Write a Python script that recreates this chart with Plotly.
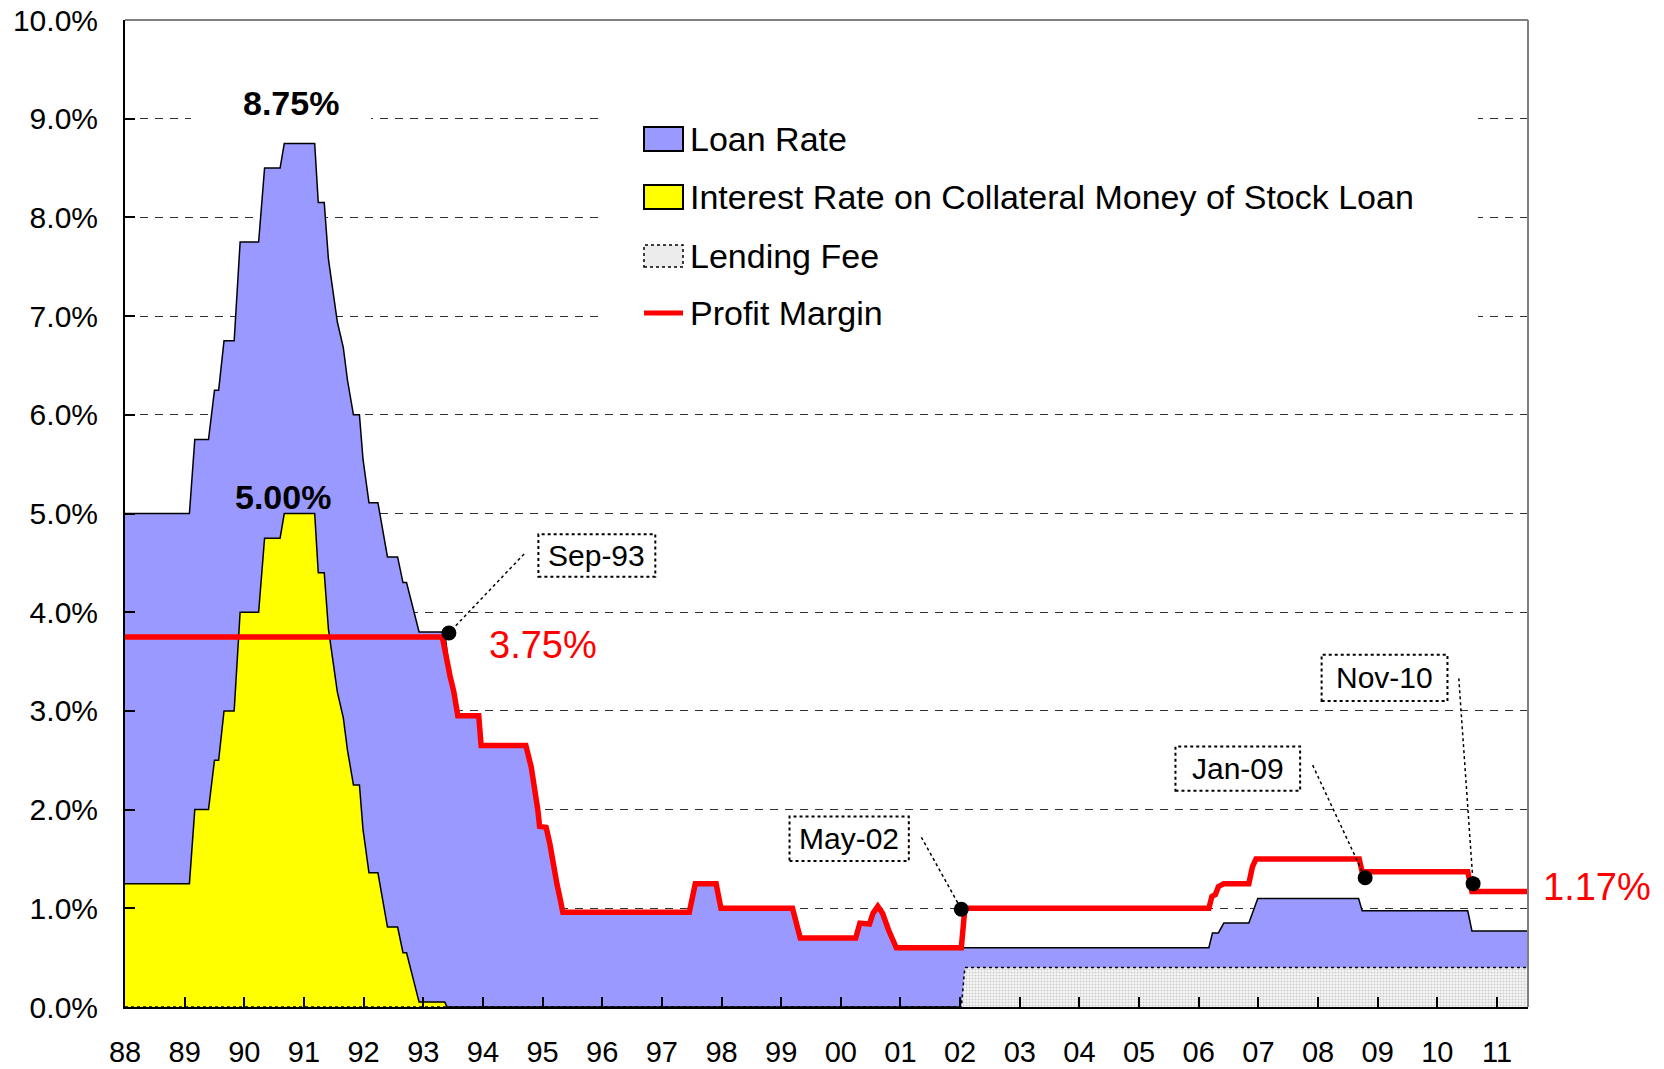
import plotly.graph_objects as go

# ---------------- data ----------------
year_ticks = [1988, 1989, 1990, 1991, 1992, 1993, 1994, 1995, 1996, 1997, 1998, 1999,
              2000, 2001, 2002, 2003, 2004, 2005, 2006, 2007, 2008, 2009, 2010, 2011]
year_labels = ["88", "89", "90", "91", "92", "93", "94", "95", "96", "97", "98", "99",
               "00", "01", "02", "03", "04", "05", "06", "07", "08", "09", "10", "11"]

loan_x = [1988.00, 1989.08, 1989.17, 1989.40, 1989.50, 1989.57, 1989.66, 1989.83, 1989.93,
          1990.24, 1990.34, 1990.60, 1990.67, 1991.18, 1991.24, 1991.34, 1991.41, 1991.56,
          1991.66, 1991.73, 1991.83, 1991.93, 1991.99, 1992.09, 1992.24, 1992.31, 1992.40,
          1992.57, 1992.66, 1992.72, 1992.93, 1993.36, 1993.45, 1993.51, 1993.58, 1993.93,
          1993.97, 1994.72, 1994.81, 1994.87, 1994.92, 1994.95, 1995.06, 1995.12, 1995.18,
          1995.24, 1995.30, 1995.34, 1997.46, 1997.56, 1997.91, 1997.99, 1999.19, 1999.32,
          2000.25, 2000.32, 2000.48, 2000.54, 2000.62, 2000.70, 2000.80, 2000.93, 2006.17,
          2006.23, 2006.33, 2006.42, 2006.84, 2006.99, 2008.68, 2008.74, 2010.51, 2010.58,
          2011.52]
loan_y = [5.00, 5.00, 5.75, 5.75, 6.25, 6.25, 6.75, 6.75, 7.75,
          7.75, 8.50, 8.50, 8.75, 8.75, 8.15, 8.15, 7.58, 6.94,
          6.68, 6.35, 6.00, 6.00, 5.55, 5.11, 5.11, 4.87, 4.56,
          4.56, 4.30, 4.30, 3.80, 3.80, 3.35, 3.20, 2.95, 2.95,
          2.65, 2.65, 2.43, 2.23, 2.00, 1.83, 1.82, 1.66, 1.42,
          1.25, 1.08, 0.96, 0.96, 1.25, 1.25, 1.00, 1.00, 0.70,
          0.70, 0.85, 0.84, 0.95, 1.02, 0.95, 0.78, 0.60, 0.60,
          0.75, 0.75, 0.85, 0.85, 1.10, 1.10, 0.975, 0.975, 0.77,
          0.77]

coll_x = [1988.00, 1989.08, 1989.17, 1989.40, 1989.50, 1989.57, 1989.66, 1989.83, 1989.93,
          1990.24, 1990.34, 1990.60, 1990.67, 1991.18, 1991.24, 1991.34, 1991.41, 1991.56,
          1991.66, 1991.73, 1991.83, 1991.93, 1991.99, 1992.09, 1992.24, 1992.31, 1992.40,
          1992.57, 1992.66, 1992.72, 1992.93, 1993.36, 1993.40, 2011.52]
coll_y = [1.25, 1.25, 2.00, 2.00, 2.50, 2.50, 3.00, 3.00, 4.00,
          4.00, 4.75, 4.75, 5.00, 5.00, 4.40, 4.40, 3.83, 3.19,
          2.93, 2.60, 2.25, 2.25, 1.80, 1.36, 1.36, 1.12, 0.81,
          0.81, 0.55, 0.55, 0.05, 0.05, 0.00, 0.00]

fee_x = [1988.00, 2002.02, 2002.08, 2011.52]
fee_y = [0.00, 0.00, 0.40, 0.40]

margin_x = [1988.00, 1993.32, 1993.45, 1993.51, 1993.58, 1993.93, 1993.97, 1994.72, 1994.81,
            1994.87, 1994.92, 1994.95, 1995.06, 1995.12, 1995.18, 1995.24, 1995.30, 1995.34,
            1997.46, 1997.56, 1997.91, 1997.99, 1999.19, 1999.32, 2000.25, 2000.32, 2000.48,
            2000.54, 2000.62, 2000.70, 2000.80, 2000.93, 2002.02, 2002.08, 2006.17, 2006.22,
            2006.28, 2006.33, 2006.42, 2006.84, 2006.90, 2006.96, 2008.69, 2008.74, 2010.51,
            2010.58, 2011.52]
margin_y = [3.75, 3.75, 3.35, 3.20, 2.95, 2.95, 2.65, 2.65, 2.43,
            2.23, 2.00, 1.83, 1.82, 1.66, 1.42, 1.25, 1.08, 0.96,
            0.96, 1.25, 1.25, 1.00, 1.00, 0.70, 0.70, 0.85, 0.84,
            0.95, 1.02, 0.95, 0.78, 0.60, 0.60, 1.00, 1.00, 1.12,
            1.14, 1.22, 1.25, 1.25, 1.42, 1.50, 1.50, 1.37, 1.37,
            1.17, 1.17]

event_labels = ["Sep-93", "May-02", "Jan-09", "Nov-10"]
event_x = [1993.43, 2002.02, 2008.79, 2010.60]
event_y = [3.79, 0.99, 1.31, 1.25]

series_names = ["Loan Rate", "Interest Rate on Collateral Money of Stock Loan",
                "Lending Fee", "Profit Margin"]

# ---------------- layout constants (page pixels) ----------------
PAGE_OFF = 8                      # default body margin of the html page
W, H = 1664 - PAGE_OFF, 1069 - PAGE_OFF
PLOT_L, PLOT_R, PLOT_T, PLOT_B = 125, 1528, 20, 1007
L = PLOT_L - PAGE_OFF
T = PLOT_T - PAGE_OFF
R = W - (PLOT_R - PAGE_OFF)
B = H - (PLOT_B - PAGE_OFF)
FONT = "Liberation Sans, Arial, sans-serif"
X0, X1 = 1988.0, 2011.52


def pxx(px):
    return (px - PLOT_L) / (PLOT_R - PLOT_L)


def pyy(py):
    return (PLOT_B - py) / (PLOT_B - PLOT_T)


fig = go.Figure()

fig.add_trace(go.Scatter(x=loan_x, y=loan_y, mode="lines", fill="tozeroy",
                         fillcolor="#9999FF", line=dict(color="black", width=1.5),
                         name=series_names[0], showlegend=False, hoverinfo="skip"))
fig.add_trace(go.Scatter(x=coll_x, y=coll_y, mode="lines", fill="tozeroy",
                         fillcolor="#FFFF00", line=dict(color="black", width=1.5),
                         name=series_names[1], showlegend=False, hoverinfo="skip"))
fig.add_trace(go.Scatter(x=fee_x, y=fee_y, mode="lines", fill="tozeroy",
                         fillcolor="#f4f4f4",
                         fillpattern=dict(shape=".", bgcolor="#f6f6f6", fgcolor="#a0a0a0",
                                          size=3, solidity=0.35),
                         line=dict(color="black", width=1.5, dash="dot"),
                         name=series_names[2], showlegend=False, hoverinfo="skip"))
fig.add_trace(go.Scatter(x=margin_x, y=margin_y, mode="lines",
                         line=dict(color="#FF0000", width=5.5),
                         name=series_names[3], showlegend=False, hoverinfo="skip"))

shapes = []
annotations = []

# white background behind legend and 8.75% label (hides gridlines)
shapes.append(dict(type="rect", xref="paper", yref="paper", layer="above",
                   x0=pxx(600), x1=pxx(1478), y0=pyy(335), y1=pyy(100),
                   fillcolor="white", line=dict(width=0)))
shapes.append(dict(type="rect", xref="paper", yref="paper", layer="above",
                   x0=pxx(191), x1=pxx(371), y0=pyy(128), y1=pyy(90),
                   fillcolor="white", line=dict(width=0)))

# plot frame: gray top and right
shapes.append(dict(type="line", xref="paper", yref="paper", x0=0, x1=1, y0=1, y1=1,
                   line=dict(color="#808080", width=2)))
shapes.append(dict(type="line", xref="paper", yref="paper", x0=1, x1=1, y0=0, y1=1,
                   line=dict(color="#808080", width=2)))

# manual legend
leg_rows = [139, 197, 256, 313]
sw_x0, sw_x1 = 644, 683
shapes.append(dict(type="rect", xref="paper", yref="paper",
                   x0=pxx(sw_x0), x1=pxx(sw_x1), y0=pyy(leg_rows[0] + 12), y1=pyy(leg_rows[0] - 12),
                   fillcolor="#9999FF", line=dict(color="black", width=2)))
shapes.append(dict(type="rect", xref="paper", yref="paper",
                   x0=pxx(sw_x0), x1=pxx(sw_x1), y0=pyy(leg_rows[1] + 12), y1=pyy(leg_rows[1] - 12),
                   fillcolor="#FFFF00", line=dict(color="black", width=2)))
shapes.append(dict(type="rect", xref="paper", yref="paper",
                   x0=pxx(sw_x0), x1=pxx(sw_x1), y0=pyy(leg_rows[2] + 11), y1=pyy(leg_rows[2] - 11),
                   fillcolor="#ececec", line=dict(color="black", width=1.5, dash="dot")))
shapes.append(dict(type="line", xref="paper", yref="paper",
                   x0=pxx(sw_x0), x1=pxx(sw_x1), y0=pyy(leg_rows[3]), y1=pyy(leg_rows[3]),
                   line=dict(color="#FF0000", width=5)))
for name, row in zip(series_names, leg_rows):
    annotations.append(dict(xref="paper", yref="paper", x=pxx(688), y=pyy(row),
                            xanchor="left", yanchor="middle", text=name, showarrow=False,
                            font=dict(family=FONT, size=34, color="black")))

# value labels
annotations.append(dict(x=1990.79, y=9.16, text="<b>8.75%</b>", showarrow=False,
                        xanchor="center", yanchor="middle",
                        font=dict(family=FONT, size=34, color="black")))
annotations.append(dict(x=1990.65, y=5.17, text="<b>5.00%</b>", showarrow=False,
                        xanchor="center", yanchor="middle",
                        font=dict(family=FONT, size=34, color="black")))
annotations.append(dict(x=1995.00, y=3.67, text="3.75%", showarrow=False,
                        xanchor="center", yanchor="middle",
                        font=dict(family=FONT, size=38, color="#FF0000")))
annotations.append(dict(xref="paper", x=pxx(1597), y=1.215, text="1.17%", showarrow=False,
                        xanchor="center", yanchor="middle",
                        font=dict(family=FONT, size=38, color="#FF0000")))

# callouts: box (x0, x1, y0, y1) and leader start, in axis units
callout_boxes = [
    (1994.93, 1996.89, 4.36, 4.79, 1994.69, 4.59),
    (1999.14, 2001.14, 1.48, 1.93, 2001.35, 1.72),
    (2005.61, 2007.70, 2.19, 2.64, 2007.91, 2.45),
    (2008.06, 2010.17, 3.10, 3.57, 2010.36, 3.33),
]
for lab, ex, ey, (bx0, bx1, by0, by1, lx, ly) in zip(event_labels, event_x, event_y, callout_boxes):
    shapes.append(dict(type="rect", xref="x", yref="y", x0=bx0, x1=bx1, y0=by0, y1=by1,
                       fillcolor="white", line=dict(color="black", width=2, dash="dot")))
    shapes.append(dict(type="line", xref="x", yref="y", x0=lx, y0=ly, x1=ex, y1=ey,
                       line=dict(color="black", width=1.5, dash="dot")))
    annotations.append(dict(x=(bx0 + bx1) / 2, y=(by0 + by1) / 2, text=lab, showarrow=False,
                            xanchor="center", yanchor="middle",
                            font=dict(family=FONT, size=30, color="black")))

fig.add_trace(go.Scatter(x=event_x, y=event_y, mode="markers",
                         marker=dict(color="black", size=15),
                         showlegend=False, hoverinfo="skip"))

fig.update_layout(
    width=W, height=H,
    margin=dict(l=L, r=R, t=T, b=B, pad=0, autoexpand=False),
    paper_bgcolor="white", plot_bgcolor="white",
    font=dict(family=FONT, color="black"),
    shapes=shapes, annotations=annotations,
    showlegend=False,
)
fig.update_xaxes(range=[X0, X1], tickvals=year_ticks, ticktext=year_labels,
                 ticks="inside", ticklen=10, tickwidth=1.5, tickcolor="black",
                 showline=True, linecolor="black", linewidth=2,
                 showgrid=False, zeroline=False, automargin=False,
                 tickfont=dict(family=FONT, size=29, color="black"),
                 ticklabelstandoff=18, ticklabeloverflow="allow")
fig.update_yaxes(range=[0, 10], dtick=1, tick0=0, tickformat=".1f", ticksuffix="%",
                 ticks="inside", ticklen=10, tickwidth=1.5, tickcolor="black",
                 showline=True, linecolor="black", linewidth=2,
                 showgrid=True, gridcolor="#303030", gridwidth=1, griddash="8px,7px",
                 zeroline=False, automargin=False,
                 tickfont=dict(family=FONT, size=30, color="black"),
                 ticklabelstandoff=19, ticklabeloverflow="allow")

fig.write_html("out.html")
